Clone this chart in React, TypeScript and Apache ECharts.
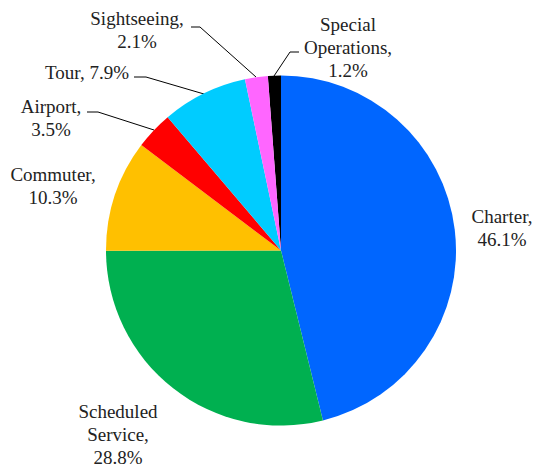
import React, { useEffect, useRef } from "react";
import * as echarts from "echarts";

const categories = ["Special Operations", "Charter", "Scheduled Service", "Commuter", "Airport", "Tour", "Sightseeing"];
const values = [1.2, 46.1, 28.8, 10.3, 3.5, 7.9, 2.1];
const colors = ["#000000", "#0066FF", "#00B050", "#FFC000", "#FF0000", "#00CCFF", "#FF66FF"];
// label text layout: name lines joined, and separator before percentage
const labelNames = ["Special\nOperations", "Charter", "Scheduled\nService", "Commuter", "Airport", "Tour", "Sightseeing"];
const labelSeps = [",\n", ",\n", ",\n", ",\n", ",\n", ", ", ",\n"];
const showLines = [true, false, false, false, true, true, true];

// label anchor positions (centre of text block) and leader elbows
const labelPos: { x: number; y: number; line?: number[][] }[] = [
  { x: 348, y: 47, line: [[274, 76], [290, 52], [299, 52]] },
  { x: 502, y: 228 },
  { x: 118, y: 434 },
  { x: 53, y: 186 },
  { x: 51, y: 118, line: [[154, 130], [98, 112], [87, 112]] },
  { x: 87, y: 72, line: [[204, 94], [146, 77], [134, 77]] },
  { x: 137, y: 30, line: [[256, 77], [200, 27], [191, 27]] },
];

const FONT = "Liberation Serif";

export default function App() {
  const ref = useRef<HTMLDivElement>(null);
  useEffect(() => {
    if (!ref.current) return;
    const chart = echarts.init(ref.current, null, { renderer: "svg" });
    chart.setOption({
      animation: false,
      backgroundColor: "#ffffff",
      textStyle: { fontFamily: FONT },
      series: [
        {
          type: "pie",
          center: [281, 250.5],
          radius: 175,
          startAngle: 94.32,
          clockwise: true,
          avoidLabelOverlap: false,
          itemStyle: { borderWidth: 0 },
          label: {
            show: true,
            position: "outside",
            fontFamily: FONT,
            fontSize: 19,
            lineHeight: 23,
            color: "#222222",
            align: "center",
            formatter: (p: any) =>
              (labelNames[p.dataIndex] + labelSeps[p.dataIndex] + values[p.dataIndex].toFixed(1) + "%")
                .split("\n")
                .map((l) => "{t|" + l + "}")
                .join("\n"),
            rich: {
              t: { fontFamily: FONT, fontSize: 19, lineHeight: 23, color: "#222222", align: "center" },
            },
          },
          labelLine: { show: true, lineStyle: { color: "#000000", width: 1 } },
          labelLayout: (p: any) => {
            const pos = labelPos[p.dataIndex];
            const out: any = { x: pos.x, y: pos.y, align: "center", verticalAlign: "middle" };
            if (pos.line) out.labelLinePoints = pos.line;
            return out;
          },
          data: categories.map((name, i) => ({
            name,
            value: values[i],
            itemStyle: { color: colors[i] },
            labelLine: { show: showLines[i] },
          })),
        },
      ],
    });
    return () => chart.dispose();
  }, []);
  return (
    <div
      ref={ref}
      style={{ position: "fixed", left: 0, top: 0, width: 535, height: 468, background: "#fff" }}
    />
  );
}
